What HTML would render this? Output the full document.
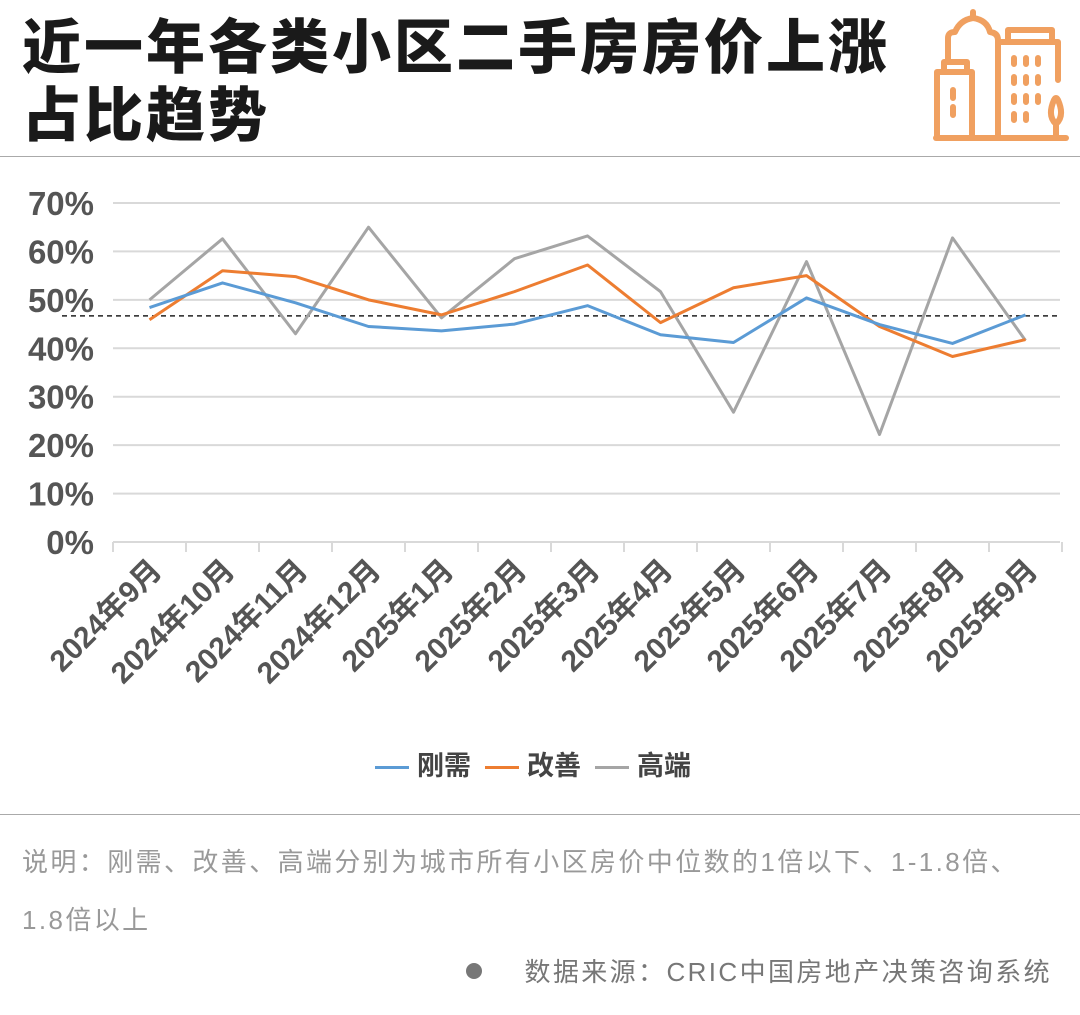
<!DOCTYPE html>
<html><head><meta charset="utf-8"><style>
body{margin:0;width:1080px;height:1015px;background:#fff;font-family:"Liberation Sans","Noto Sans CJK SC",sans-serif;overflow:hidden;position:relative}
.t{position:absolute;left:22px;font-size:59px;font-weight:900;color:#1a1a1a;letter-spacing:3px;line-height:68px}
</style></head><body>
<div class="t" style="top:14px">近一年各类小区二手房房价上涨<br>占比趋势</div>
<svg style="position:absolute;left:920px;top:0" width="160" height="160" viewBox="920 0 160 160" fill="none" stroke="#f0a060" stroke-width="6" stroke-linecap="round" stroke-linejoin="round">
<path d="M936 138H1066"/><path d="M937 138V72H972V138"/><path d="M944 72V62H967V72"/><path d="M953 90V98M953 107V115"/>
<path d="M948 62V38Q948 32 955 32Q960 20 973 18Q987 20 990 32Q998 33 998 40V138"/><path d="M973 18V12"/>
<path d="M998 42H1058V80"/><path d="M1008 42V30H1052V42"/>
<path d="M1014 58V64M1026 58V64M1038 58V64M1014 77V83M1026 77V83M1038 77V83M1014 96V102M1026 96V102M1038 96V102M1014 114V120M1026 114V120"/>
<path d="M1056 124Q1047 116 1054 100Q1056 96 1058 100Q1065 116 1056 124V138"/>
</svg>
<div style="position:absolute;left:0;top:156px;width:1080px;height:1px;background:#aaa"></div>
<svg id="chart" style="position:absolute;left:0;top:0" width="1080" height="800"></svg>
<div style="position:absolute;top:744px;left:375px;font-size:27px;font-weight:bold;color:#444;display:flex;gap:14px;align-items:center">
<span><span style="display:inline-block;width:34px;height:3px;background:#5b9bd5;vertical-align:middle;margin-right:8px"></span>刚需</span>
<span><span style="display:inline-block;width:34px;height:3px;background:#ed7d31;vertical-align:middle;margin-right:8px"></span>改善</span>
<span><span style="display:inline-block;width:34px;height:3px;background:#a5a5a5;vertical-align:middle;margin-right:8px"></span>高端</span>
</div>
<div style="position:absolute;left:0;top:814px;width:1080px;height:1px;background:#aaa"></div>
<div style="position:absolute;left:22px;top:833px;font-size:26px;letter-spacing:2.4px;color:#999;line-height:58px">说明：刚需、改善、高端分别为城市所有小区房价中位数的1倍以下、1-1.8倍、<br>1.8倍以上</div>
<div style="position:absolute;right:28px;top:952px;font-size:26px;letter-spacing:2.4px;color:#777"><span style="display:inline-block;width:16px;height:16px;border-radius:50%;background:#777;margin-right:42px;vertical-align:2px"></span>数据来源：CRIC中国房地产决策咨询系统</div>
<script>
const categories=["2024年9月","2024年10月","2024年11月","2024年12月","2025年1月","2025年2月","2025年3月","2025年4月","2025年5月","2025年6月","2025年7月","2025年8月","2025年9月"];
const gangxu=[48.4,53.5,49.4,44.5,43.6,45,48.8,42.8,41.2,50.4,44.9,41,46.9];
const gaishan=[45.9,56,54.8,50,46.9,51.7,57.2,45.3,52.5,55,44.5,38.3,41.8];
const gaoduan=[50,62.6,43,65,46.3,58.5,63.2,51.7,26.8,57.9,22.2,62.8,41.6];
const yTicks=[0,10,20,30,40,50,60,70];
const refLine=46.7;
const svg=document.getElementById('chart');const NS='http://www.w3.org/2000/svg';
const x0=113,bw=73,y0=542,yTop=203;
const X=i=>x0+bw/2+i*bw, Y=v=>y0-(v/70)*(y0-yTop);
function mk(t,a){const e=document.createElementNS(NS,t);for(const k in a)e.setAttribute(k,a[k]);svg.appendChild(e);return e;}
yTicks.forEach(v=>{
 const g=mk('line',{x1:x0,x2:1060,y1:Y(v),y2:Y(v),stroke:'#d9d9d9','stroke-width':2});
 
 
 const t=mk('text',{x:94,y:Y(v)+12,'text-anchor':'end','font-size':33,'font-weight':'bold',fill:'#555'});
 t.textContent=v+'%';
 
 
});
for(let i=0;i<=categories.length;i++){const tk=mk('line',{x1:x0+i*bw,x2:x0+i*bw,y1:y0,y2:y0+10,stroke:'#d9d9d9','stroke-width':2});
 
 }
categories.forEach((c,i)=>{const t=mk('text',{x:X(i)+14,y:y0+30,'text-anchor':'end','font-size':30,'font-weight':'bold',fill:'#555',transform:`rotate(-45 ${X(i)+14} ${y0+30})`});
 t.textContent=c;
 
 });
const rl=mk('line',{x1:62,x2:1060,y1:Y(refLine),y2:Y(refLine),stroke:'#222','stroke-width':1.5,'stroke-dasharray':'5 4'});


[[gaoduan,'#a5a5a5','series-gaoduan'],[gaishan,'#ed7d31','series-gaishan'],[gangxu,'#5b9bd5','series-gangxu']].forEach(([d,c,n])=>{
 const p=mk('polyline',{points:d.map((v,i)=>X(i)+','+Y(v)).join(' '),fill:'none',stroke:c,'stroke-width':3,'stroke-linejoin':'round'});
 
 
});
</script>
</body></html>
